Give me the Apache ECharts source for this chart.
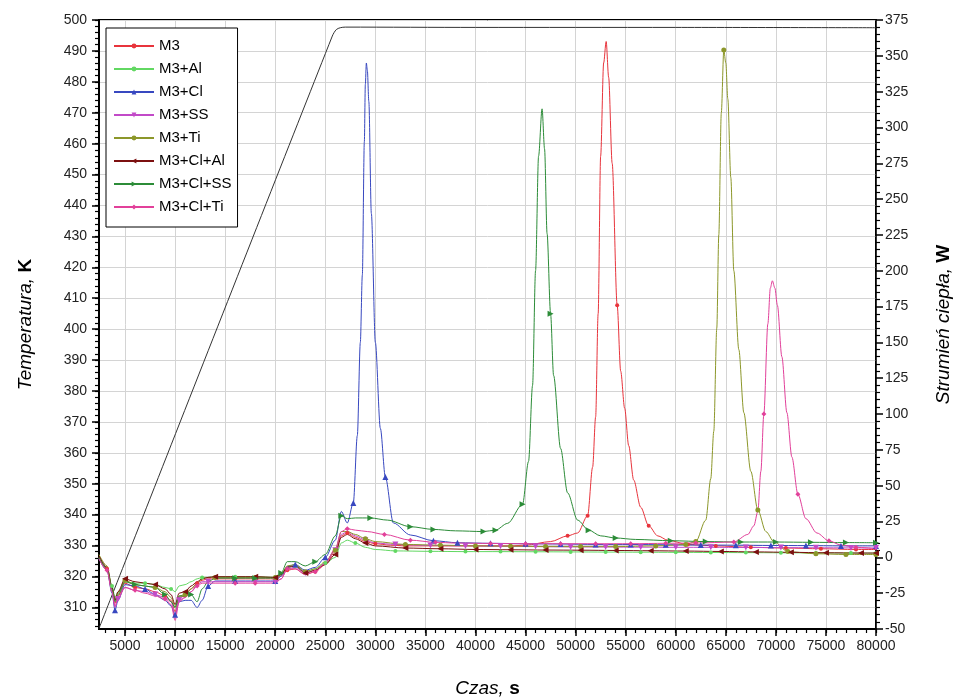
<!DOCTYPE html>
<html>
<head>
<meta charset="utf-8">
<script src="https://cdn.jsdelivr.net/npm/echarts@6/dist/echarts.min.js"></script>
<style>
  html, body { margin: 0; padding: 0; background: #fff; }
  #chart { width: 959px; height: 699px; }
</style>
</head>
<body>
<div id="chart"></div>
<script>
// osie
const czasTicks = [5000, 10000, 15000, 20000, 25000, 30000, 35000, 40000, 45000, 50000, 55000, 60000, 65000, 70000, 75000, 80000]
const tempTicks = [310, 320, 330, 340, 350, 360, 370, 380, 390, 400, 410, 420, 430, 440, 450, 460, 470, 480, 490, 500]

// temperatura, K (lewa os)
const czasTemp = [2400, 25700, 26100, 26500, 27000, 40000, 60000, 80000]
const temp = [303.2, 494.8, 496.9, 497.5, 497.7, 497.6, 497.6, 497.5]

// wspolny poczatek pomiaru (strumien ciepla, W)
const czasPoczatek = [2400, 3200, 3700, 4000, 4300, 5000, 6000, 7000, 8000, 9000, 9600, 10000, 10400, 11000, 11600, 12200, 12700, 13300, 14000, 16000, 18000, 20000, 20600, 21200, 22000, 23000, 24000, 25000, 26000, 26600, 27200]
const m3Poczatek = [0, -8, -23, -32, -27, -18, -21, -22, -24, -27, -30, -38, -28, -27, -22, -18, -16, -15, -15, -15, -15, -15, -13, -9, -8, -12, -10, -5, 4, 15, 17]
const m3AlPoczatek = [-1, -7, -20, -28, -24, -17, -18, -18, -19, -21, -22, -24, -20, -19, -17, -15, -14, -14, -13.5, -13.5, -13.5, -14, -12, -7, -6, -10, -8, -4, 0, 10, 12]
const m3ClPoczatek = [-1, -9, -25, -37, -30, -19, -20, -22, -26, -30, -34, -40, -31, -30, -30, -35, -30, -20, -16.5, -16.5, -16.5, -16.5, -13, -6.5, -5, -9, -7, 0, 12, 32, 24]
const m3SSPoczatek = [-1, -9, -24, -35, -29, -21, -23, -24, -26, -28, -31, -40, -30, -28, -24, -19, -17, -17, -17, -17, -17, -17, -15, -8, -7, -11, -9, -4, 5, 16, 18]
const m3TiPoczatek = [2, -6, -21, -30, -25, -16, -19, -20, -21, -24, -28, -35, -27, -26, -22, -18, -15, -14, -14, -14, -14, -14, -12, -6, -5, -10, -8, -3, 5, 18, 18]
const m3ClAlPoczatek = [1, -7, -21, -30, -24, -15, -17, -18, -19, -22, -26, -33, -25, -24, -20, -17, -15, -14, -13.5, -13.5, -13.5, -14, -12, -7, -6, -11, -9, -5, 2, 14, 16]
const m3ClSSPoczatek = [0, -8, -22, -31, -26, -17, -19, -20, -21, -26, -31, -35, -27, -27, -26, -31, -22, -17, -14.5, -14.5, -14.5, -14.5, -11, -3, -3, -6, -3, 2, 15, 29, 27]
const m3ClTiPoczatek = [-1, -9, -24, -34, -28, -21, -23, -25, -27, -29, -33, -44, -31, -28, -24, -20, -18, -18, -18, -18, -18, -18, -15, -8, -8, -12, -10, -4, 6, 18, 20]

// dalsza czesc, osobno dla kazdej probki
const m3Czas = [28000, 29000, 30000, 31500, 33000, 36500, 40000, 43500, 45000, 47500, 49200, 50200, 51200, 51700, 52000, 52250, 52500, 52800, 53050, 53300, 53650, 54150, 54500, 54900, 55300, 55800, 56500, 57300, 58200, 59200, 61200, 64000, 67500, 71000, 74500, 78000, 80000]
const m3Koniec = [14, 11, 9.5, 8.5, 8, 8, 8, 8, 8.5, 11, 15, 17, 29, 63, 98, 170, 280, 345, 360, 335, 275, 176, 130, 104, 78, 54, 35, 22, 15, 12, 9, 8, 7, 6.5, 6, 5.5, 5.5]
const m3AlCzas = [28000, 29000, 30000, 32000, 35500, 39000, 42500, 46000, 49500, 53000, 56500, 60000, 63500, 67000, 70500, 74000, 77500, 80000]
const m3AlKoniec = [10, 7, 5.5, 4.5, 4.2, 4, 4, 3.9, 3.8, 3.7, 3.6, 3.5, 3.4, 3.3, 3.2, 3.1, 3, 3]
const m3ClCzas = [27800, 28200, 28500, 28700, 28900, 29000, 29100, 29200, 29350, 29600, 30000, 30500, 31000, 31800, 33500, 35800, 38200, 41500, 45000, 48500, 52000, 55500, 59000, 62500, 66000, 69500, 73000, 76500, 80000]
const m3ClKoniec = [38, 85, 150, 197, 290, 330, 345, 340, 318, 240, 150, 90, 56, 24, 15.6, 11.6, 10.2, 9.8, 9.5, 9.3, 9, 9, 8.8, 8.6, 8.5, 8.3, 8.2, 8, 8]
const m3SSCzas = [28000, 29000, 30000, 32000, 35500, 39000, 42500, 46000, 49500, 53000, 56500, 60000, 63500, 67000, 70500, 74000, 77500, 80000]
const m3SSKoniec = [15, 12, 10, 9, 8.3, 8, 7.7, 7.5, 7.3, 7.2, 7.1, 7, 7, 6.9, 6.8, 6.7, 6.6, 6.5]
const m3TiCzas = [28000, 29000, 30000, 33000, 36500, 40000, 43500, 47000, 50500, 54000, 58000, 61000, 62000, 63000, 63500, 63800, 64100, 64300, 64550, 64800, 65000, 65200, 65500, 65800, 66300, 66800, 67500, 68200, 69000, 69800, 71200, 74000, 77000, 80000]
const m3TiKoniec = [16, 13, 11, 9, 8.5, 8, 7.8, 7.5, 7.5, 7.5, 8, 9, 11, 26, 55, 88, 160, 225, 310, 354, 345, 320, 265, 200, 145, 101, 60, 33, 18, 11, 4, 2.5, 2, 2]
const m3ClAlCzas = [28000, 29000, 30000, 33000, 36500, 40000, 43500, 47000, 50500, 54000, 57500, 61000, 64500, 68000, 71500, 75000, 78500, 80000]
const m3ClAlKoniec = [13, 10, 8, 6.5, 6, 5.5, 5.3, 5.1, 5, 4.8, 4.6, 4.4, 4.1, 3.8, 3.5, 3.2, 3, 3]
const m3ClSSCzas = [28000, 29500, 31200, 33500, 35800, 38000, 40800, 42000, 43200, 44700, 45300, 45700, 46000, 46300, 46650, 46900, 47150, 47500, 47800, 48500, 49200, 50200, 51300, 52500, 54000, 56000, 59500, 63000, 66500, 70000, 73500, 77000, 80000]
const m3ClSSKoniec = [27.5, 27.5, 26, 21.4, 19.5, 18.5, 18, 19, 23.7, 37, 67, 120, 200, 280, 313, 285, 226, 170, 127, 76, 45, 26, 19, 15, 13.5, 12.5, 11.6, 11, 10.7, 10.7, 10.5, 10.3, 10.2]
const m3ClTiCzas = [28000, 29200, 30900, 33500, 36000, 38000, 41500, 45000, 48500, 52000, 55500, 59000, 62000, 65800, 67200, 67800, 68200, 68500, 68800, 69200, 69450, 69650, 69900, 70150, 70600, 71100, 71600, 72200, 73000, 74100, 75300, 76500, 78000, 80000]
const m3ClTiKoniec = [19, 18, 16, 12, 10.5, 10, 9.7, 9.5, 9.5, 9.5, 9.5, 9.8, 10, 10.7, 16, 22, 32, 60, 100, 163, 188, 193, 188, 176, 140, 101, 70, 44, 27, 17, 11.5, 8.6, 7, 6]

const font = 'Liberation Sans, Arial, sans-serif'

// znacznik mniej wiecej co 3000 s, reszta punktow bez symbolu
function punkty (czas, wartosci, przesuniecie) {
  return czas.map((t, i) => {
    const nowy = i > 0 && Math.floor((t - przesuniecie) / 3000) > Math.floor((czas[i - 1] - przesuniecie) / 3000)
    return { value: [t, wartosci[i]], symbol: nowy ? undefined : 'none' }
  })
}

function seria (name, color, symbol, size, rotate, czas, wartosci, przesuniecie) {
  return {
    name: name,
    type: 'line',
    xAxisIndex: 0,
    yAxisIndex: 1,
    smooth: 0.3,
    smoothMonotone: 'x',
    symbol: symbol,
    symbolSize: size,
    symbolRotate: rotate,
    lineStyle: { color: color, width: 1 },
    itemStyle: { color: color },
    data: punkty(czas, wartosci, przesuniecie),
    z: 3
  }
}

const minorX = []
for (let v = 3000; v <= 80000; v += 1000) minorX.push(v)
const minorT = []
for (let v = 304; v <= 500; v += 2) minorT.push(v)

const nameStyle = {
  color: '#000',
  fontFamily: font,
  fontSize: 19,
  rich: {
    i: { fontStyle: 'italic', fontFamily: font, fontSize: 19, color: '#000' },
    b: { fontWeight: 'bold', fontFamily: font, fontSize: 19, color: '#000' }
  }
}
const labelStyle = { color: '#222', fontFamily: font, fontSize: 14 }

const option = {
  animation: false,
  backgroundColor: '#fff',
  grid: {
    left: 99,
    right: 83,
    top: 20,
    bottom: 70,
    show: true,
    borderColor: '#000',
    borderWidth: 2,
    outerBoundsMode: 'none'
  },
  legend: {
    orient: 'vertical',
    left: 106,
    top: 28,
    padding: [10, 6, 12, 7],
    itemGap: 7,
    itemWidth: 40,
    itemHeight: 6,
    borderColor: '#000',
    borderWidth: 1,
    backgroundColor: '#fff',
    textStyle: { color: '#000', fontFamily: font, fontSize: 15, lineHeight: 16 },
    data: ['M3', 'M3+Al', 'M3+Cl', 'M3+SS', 'M3+Ti', 'M3+Cl+Al', 'M3+Cl+SS', 'M3+Cl+Ti']
  },
  xAxis: [
    {
      type: 'value',
      min: 2400,
      max: 80000,
      position: 'bottom',
      name: '{i|Czas,} {b|s}',
      nameLocation: 'middle',
      nameGap: 50,
      nameTextStyle: nameStyle,
      axisLine: { show: true, onZero: false, lineStyle: { color: '#000', width: 2 } },
      axisTick: { show: true, customValues: czasTicks, length: 7, lineStyle: { color: '#000', width: 1.5 } },
      axisLabel: { customValues: czasTicks, margin: 10, formatter: v => String(v), ...labelStyle },
      splitLine: { show: true, lineStyle: { color: '#d4d4d4', width: 1 } }
    },
    {
      type: 'value',
      min: 2400,
      max: 80000,
      position: 'bottom',
      axisLine: { show: false, onZero: false },
      axisTick: { show: true, customValues: minorX, length: 4, lineStyle: { color: '#000', width: 1.2 } },
      axisLabel: { show: false },
      splitLine: { show: false }
    }
  ],
  yAxis: [
    {
      type: 'value',
      min: 303,
      max: 500,
      position: 'left',
      name: '{i|Temperatura,} {b|K}',
      nameLocation: 'middle',
      nameGap: 64,
      nameTextStyle: nameStyle,
      axisLine: { show: true, onZero: false, lineStyle: { color: '#000', width: 2 } },
      axisTick: { show: true, customValues: tempTicks, length: 7, lineStyle: { color: '#000', width: 1.5 } },
      axisLabel: { customValues: tempTicks, margin: 12, ...labelStyle },
      splitLine: { show: true, lineStyle: { color: '#d4d4d4', width: 1 } }
    },
    {
      type: 'value',
      min: -50,
      max: 375,
      interval: 25,
      position: 'right',
      name: '{i|Strumień ciepła,} {b|W}',
      nameLocation: 'middle',
      nameGap: 58,
      nameRotate: 90,
      nameTextStyle: nameStyle,
      axisLine: { show: true, onZero: false, lineStyle: { color: '#000', width: 1.5 } },
      axisTick: { show: true, length: 7, lineStyle: { color: '#000', width: 1.5 } },
      minorTick: { show: true, splitNumber: 5, length: 4, lineStyle: { color: '#000', width: 1.2 } },
      axisLabel: { margin: 9, ...labelStyle },
      splitLine: { show: false }
    },
    {
      type: 'value',
      min: 303,
      max: 500,
      position: 'left',
      axisLine: { show: false, onZero: false },
      axisTick: { show: true, customValues: minorT, length: 4, lineStyle: { color: '#000', width: 1.2 } },
      axisLabel: { show: false },
      splitLine: { show: false }
    }
  ],
  series: [
    {
      name: 'T',
      type: 'line',
      xAxisIndex: 0,
      yAxisIndex: 0,
      symbol: 'none',
      smooth: 0.3,
      lineStyle: { color: '#333', width: 1 },
      data: czasTemp.map((t, i) => [t, temp[i]]),
      z: 2
    },
    seria('M3', '#e8343c', 'circle', 4, 0, czasPoczatek.concat(m3Czas), m3Poczatek.concat(m3Koniec), 0),
    seria('M3+Al', '#62d862', 'circle', 4, 0, czasPoczatek.concat(m3AlCzas), m3AlPoczatek.concat(m3AlKoniec), 400),
    seria('M3+Cl', '#3848c0', 'triangle', 6, 0, czasPoczatek.concat(m3ClCzas), m3ClPoczatek.concat(m3ClKoniec), 800),
    seria('M3+SS', '#c24ac8', 'triangle', 6, 180, czasPoczatek.concat(m3SSCzas), m3SSPoczatek.concat(m3SSKoniec), 1200),
    seria('M3+Ti', '#8c972a', 'circle', 5, 0, czasPoczatek.concat(m3TiCzas), m3TiPoczatek.concat(m3TiKoniec), 1600),
    seria('M3+Cl+Al', '#7c1010', 'triangle', 6, 90, czasPoczatek.concat(m3ClAlCzas), m3ClAlPoczatek.concat(m3ClAlKoniec), 2000),
    seria('M3+Cl+SS', '#2c8c38', 'triangle', 6, -90, czasPoczatek.concat(m3ClSSCzas), m3ClSSPoczatek.concat(m3ClSSKoniec), 2400),
    seria('M3+Cl+Ti', '#e2409a', 'diamond', 5, 0, czasPoczatek.concat(m3ClTiCzas), m3ClTiPoczatek.concat(m3ClTiKoniec), 2800)
  ]
}

const chart = echarts.init(document.getElementById('chart'))
chart.setOption(option)
</script>
</body>
</html>
